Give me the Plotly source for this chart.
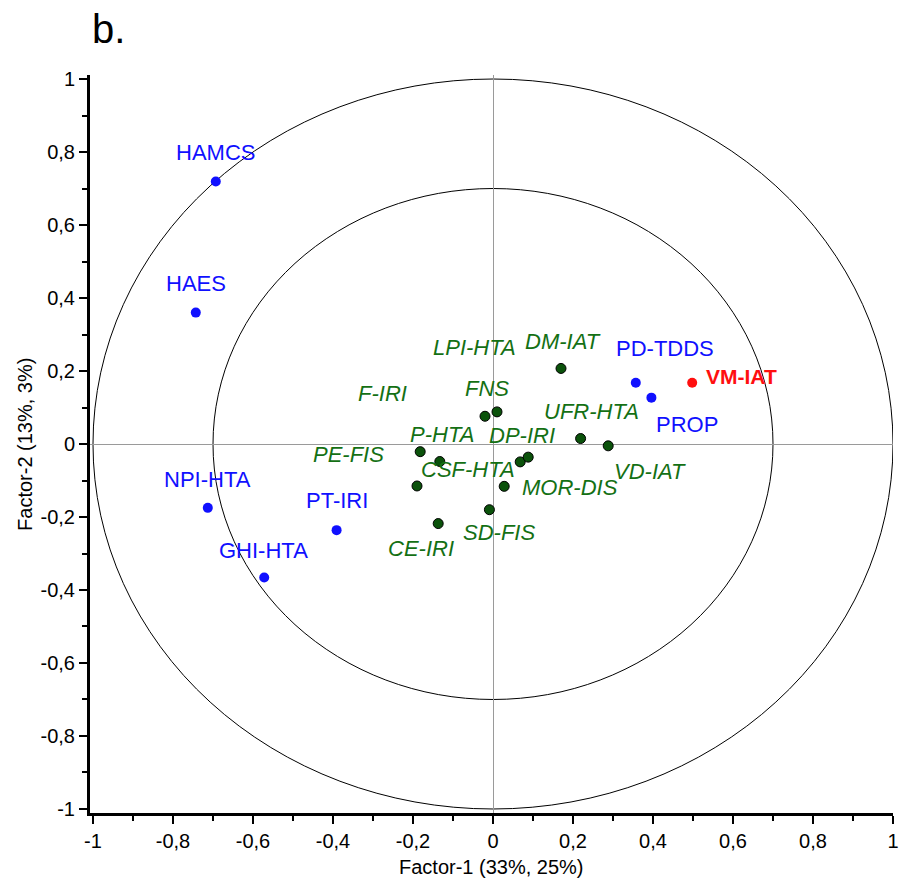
import plotly.graph_objects as go

# ---- data ----
green_names = ["DM-IAT", "FNS", "LPI-HTA", "UFR-HTA", "VD-IAT", "F-IRI", "P-HTA",
               "CSF-HTA", "DP-IRI", "PE-FIS", "MOR-DIS", "SD-FIS", "CE-IRI"]
green_x = [0.170, 0.010, -0.020, 0.219, 0.288, -0.182, -0.133,
           0.068, 0.088, -0.190, 0.028, -0.009, -0.137]
green_y = [0.207, 0.088, 0.076, 0.015, -0.005, -0.021, -0.048,
           -0.049, -0.036, -0.115, -0.116, -0.180, -0.218]

blue_names = ["HAMCS", "HAES", "PD-TDDS", "PROP", "NPI-HTA", "PT-IRI", "GHI-HTA"]
blue_x = [-0.693, -0.743, 0.357, 0.396, -0.713, -0.391, -0.572]
blue_y = [0.719, 0.360, 0.168, 0.127, -0.175, -0.236, -0.366]

red_names = ["VM-IAT"]
red_x = [0.498]
red_y = [0.168]

circle_radii = [1.0, 0.7]

tick_vals = [-1, -0.8, -0.6, -0.4, -0.2, 0, 0.2, 0.4, 0.6, 0.8, 1]
tick_text = ["-1", "-0,8", "-0,6", "-0,4", "-0,2", "0", "0,2", "0,4", "0,6", "0,8", "1"]

x_title = "Factor-1 (33%, 25%)"
y_title = "Factor-2 (13%, 3%)"
panel_label = "b."

# ---- label placement (pixel offsets from each point: dx right, dy up) ----
label_offsets = {
    "DM-IAT": (2, 27), "FNS": (-10, 23), "LPI-HTA": (-11, 69), "UFR-HTA": (11, 27),
    "VD-IAT": (42, -26), "F-IRI": (-38, 58), "P-HTA": (2, 27), "CSF-HTA": (-52, -8),
    "DP-IRI": (-6, 22), "PE-FIS": (-69, 31), "MOR-DIS": (66, -1), "SD-FIS": (10, -23),
    "CE-IRI": (-17, -25),
    "HAMCS": (0, 29), "HAES": (0, 29), "PD-TDDS": (29, 34), "PROP": (36, -27),
    "NPI-HTA": (0, 28), "PT-IRI": (0, 30), "GHI-HTA": (-1, 27),
}

FONT = "Liberation Sans, Arial, sans-serif"
GREEN_TXT = "#147014"
GREEN_PT = "#0b520b"
BLUE = "#1010ff"
RED = "#ff0f0f"

fig = go.Figure()

fig.add_trace(go.Scatter(x=green_x, y=green_y, mode="markers", hoverinfo="text",
                         text=green_names,
                         marker=dict(size=10, color=GREEN_PT, line=dict(color="black", width=1))))
fig.add_trace(go.Scatter(x=blue_x, y=blue_y, mode="markers", hoverinfo="text",
                         text=blue_names,
                         marker=dict(size=10, color=BLUE, line=dict(width=0))))
fig.add_trace(go.Scatter(x=red_x, y=red_y, mode="markers", hoverinfo="text",
                         text=red_names,
                         marker=dict(size=10, color=RED, line=dict(width=0))))

annotations = []
for names, xs, ys, color, fmt in [(green_names, green_x, green_y, GREEN_TXT, "<i>{}</i>"),
                                   (blue_names, blue_x, blue_y, BLUE, "{}")]:
    for n, x, y in zip(names, xs, ys):
        dx, dy = label_offsets[n]
        annotations.append(dict(x=x, y=y, xref="x", yref="y", text=fmt.format(n),
                                showarrow=False, xshift=dx, yshift=dy,
                                font=dict(family=FONT, size=22, color=color)))
for n, x, y in zip(red_names, red_x, red_y):
    annotations.append(dict(x=x, y=y, xref="x", yref="y", text="<b>{}</b>".format(n),
                            showarrow=False, xanchor="left", xshift=12, yshift=6,
                            font=dict(family=FONT, size=21, color=RED)))

annotations.append(dict(x=0.5, y=-0.073, xref="paper", yref="paper", text=x_title,
                        showarrow=False, xanchor="center", yanchor="middle",
                        font=dict(family=FONT, size=20, color="black")))
annotations.append(dict(x=-0.081, y=0.5, xref="paper", yref="paper", text=y_title,
                        showarrow=False, textangle=-90, xanchor="center", yanchor="middle",
                        font=dict(family=FONT, size=20, color="black")))
annotations.append(dict(x=0.0, y=1.063, xref="paper", yref="paper", text=panel_label,
                        showarrow=False, xanchor="left", yanchor="middle",
                        font=dict(family=FONT, size=40, color="black")))

shapes = [dict(type="circle", xref="x", yref="y", x0=-r, x1=r, y0=-r, y1=r,
               line=dict(color="black", width=1), layer="below") for r in circle_radii]

axis_common = dict(
    tickvals=tick_vals, ticktext=tick_text, showgrid=False, automargin=False,
    zeroline=True, zerolinecolor="#9a9a9a", zerolinewidth=1,
    showline=True, linecolor="black", linewidth=3,
    ticks="outside", ticklen=8, tickwidth=2, tickcolor="black",
    tickfont=dict(family=FONT, size=20, color="black"),
    minor=dict(dtick=0.1, tick0=0, ticks="outside", ticklen=5, tickwidth=2, tickcolor="black"),
    fixedrange=True,
)

fig.update_layout(
    width=900, height=879,
    margin=dict(l=90, r=7, t=75, b=66, autoexpand=False),
    paper_bgcolor="white", plot_bgcolor="white",
    showlegend=False,
    xaxis=dict(range=[-1.0075, 1.0], **axis_common),
    yaxis=dict(range=[-1.011, 1.011], **axis_common),
    shapes=shapes,
    annotations=annotations,
)

fig.write_html("out.html")
